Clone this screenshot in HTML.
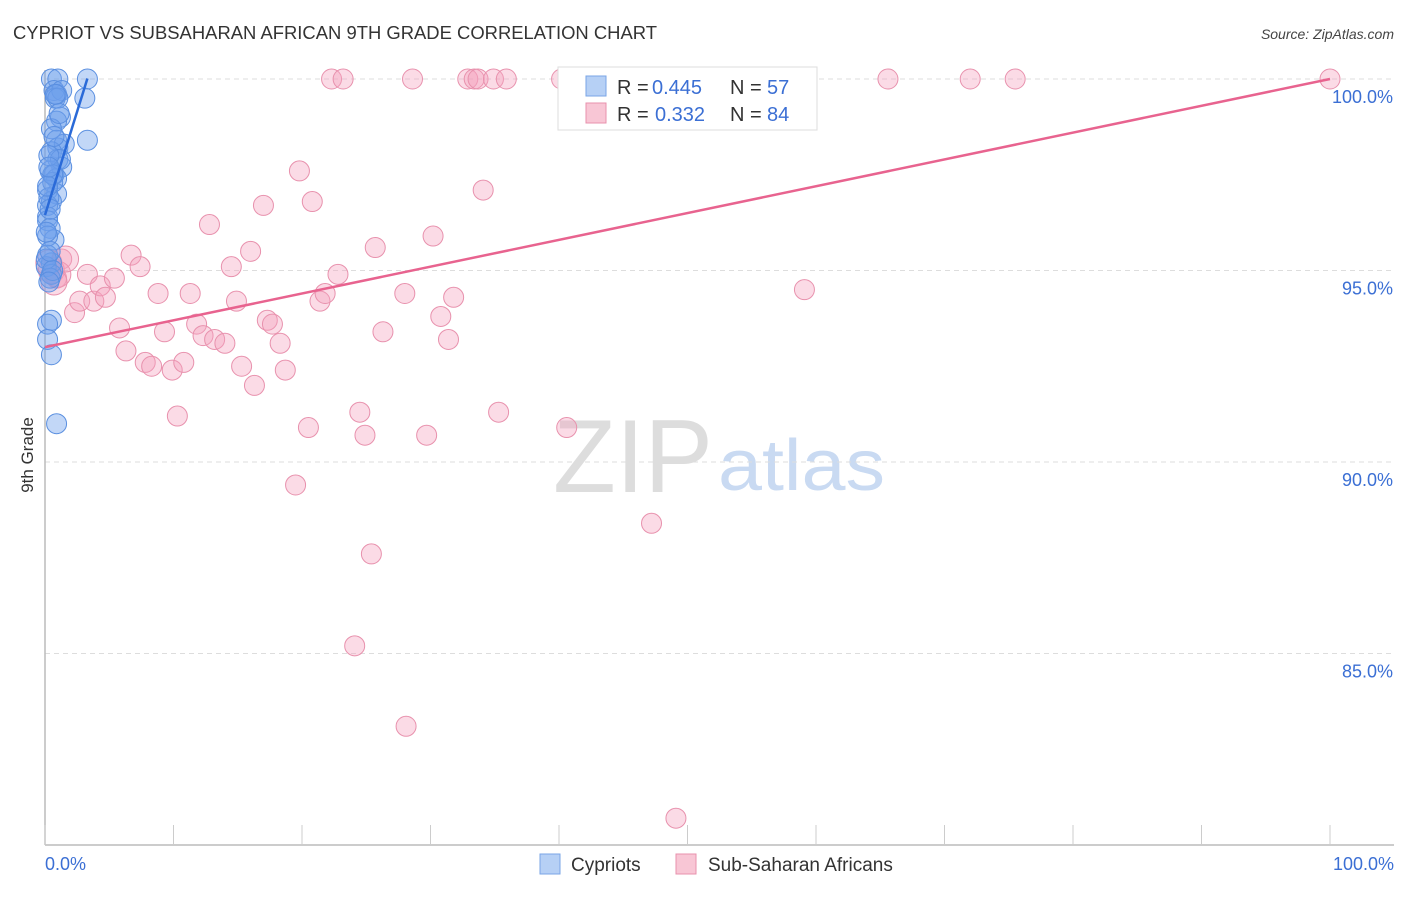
<!DOCTYPE html>
<html><head><meta charset="utf-8"><style>
body{margin:0;background:#fff;font-family:"Liberation Sans",sans-serif}
svg text{font-family:"Liberation Sans",sans-serif}
</style></head><body>
<svg id="chart" width="1406" height="892" viewBox="0 0 1406 892" xmlns="http://www.w3.org/2000/svg">
<text x="13" y="39" font-size="18" fill="#333" textLength="644" lengthAdjust="spacingAndGlyphs">CYPRIOT VS SUBSAHARAN AFRICAN 9TH GRADE CORRELATION CHART</text>
<text x="1394" y="39" font-size="14" fill="#444" text-anchor="end" font-style="italic">Source: ZipAtlas.com</text>
<text transform="translate(33,455) rotate(-90)" font-size="17" fill="#333" text-anchor="middle">9th Grade</text>
<g>
<text x="553" y="492" font-size="104" fill="#ddd" font-family="Liberation Serif,serif" textLength="160" lengthAdjust="spacingAndGlyphs">ZIP</text>
<text x="718" y="490" font-size="72" fill="#c9daf2" textLength="167" lengthAdjust="spacingAndGlyphs">atlas</text>
</g>
<g id="grid"></g><g id="axes"></g><g id="pts"></g><g id="lines"></g>
<g>
<rect x="558" y="67" width="259" height="63" fill="#fff" stroke="#ddd"/>
<rect x="586" y="76" width="20" height="20" fill="#b6d0f5" stroke="#7aa5e6"/>
<text x="617" y="94" font-size="20" fill="#333">R =</text>
<text x="652" y="94" font-size="20" fill="#3b6fd4">0.445</text>
<text x="730" y="94" font-size="20" fill="#333">N =</text>
<text x="767" y="94" font-size="20" fill="#3b6fd4">57</text>
<rect x="586" y="103" width="20" height="20" fill="#f8c6d5" stroke="#e891ad"/>
<text x="617" y="121" font-size="20" fill="#333">R =</text>
<text x="655" y="121" font-size="20" fill="#3b6fd4">0.332</text>
<text x="730" y="121" font-size="20" fill="#333">N =</text>
<text x="767" y="121" font-size="20" fill="#3b6fd4">84</text>
</g>
<g>
<rect x="540" y="854" width="20" height="20" fill="#b6d0f5" stroke="#7aa5e6"/>
<text x="571" y="871" font-size="19" fill="#333">Cypriots</text>
<rect x="676" y="854" width="20" height="20" fill="#f8c6d5" stroke="#e891ad"/>
<text x="708" y="871" font-size="19" fill="#333">Sub-Saharan Africans</text>
</g>
<text x="45" y="870" font-size="18" fill="#3b6fd4">0.0%</text>
<text x="1394" y="870" font-size="18" fill="#3b6fd4" text-anchor="end">100.0%</text>
</svg>
<script>
const yTicks=[100,95,90,85];
const yTickLabels=["100.0%","95.0%","90.0%","85.0%"];
const xTicks=[0,10,20,30,40,50,60,70,80,90,100];
const cypX=[0.5,1.0,3.3,0.7,0.9,1.3,0.8,1.0,3.1,1.2,0.9,0.5,0.9,3.3,1.0,1.5,0.5,1.0,1.3,0.4,0.7,0.9,0.2,0.9,0.5,0.2,0.2,0.2,0.4,0.7,0.2,0.5,0.1,0.5,0.4,0.5,0.2,0.2,0.5,0.9,0.6,1.2,0.2,0.3,0.6,0.1,0.8,0.3,0.4,0.6,0.2,0.3,0.7,0.1,0.4,1.1,0.3];
const cypY=[100,100,100,99.7,99.6,99.7,99.5,99.5,99.5,99.0,98.9,98.7,98.4,98.4,98.2,98.3,98.1,97.9,97.7,97.6,97.5,97.4,97.1,97.0,96.8,96.7,96.4,96.3,96.1,95.8,95.4,95.2,95.1,94.9,94.8,93.7,93.6,93.2,92.8,91.0,97.3,97.9,95.9,96.9,97.5,95.3,99.6,98.0,96.6,95.0,97.2,94.7,98.5,96.0,95.5,99.1,97.7];
const ssaX=[0.9,1.3,2.3,2.7,3.3,3.8,4.3,4.7,5.4,5.8,6.3,6.7,7.4,7.8,8.3,8.8,9.3,9.9,10.3,10.8,11.3,11.8,12.3,12.8,13.2,14.0,14.5,14.9,15.3,16.0,16.3,17.0,17.3,17.7,18.3,18.7,19.5,19.8,20.5,20.8,21.4,21.8,22.8,22.3,23.2,24.1,24.5,24.9,25.4,25.7,26.3,28.0,28.1,28.6,29.7,30.2,30.8,31.4,31.8,32.9,33.4,33.7,34.1,34.9,35.3,35.9,40.2,40.6,41.7,46.1,47.2,49.1,52.4,56.4,59.1,65.6,72.0,75.5,100,0.5,1.0,0.3,0.7,1.6];
const ssaY=[94.8,95.3,93.9,94.2,94.9,94.2,94.6,94.3,94.8,93.5,92.9,95.4,95.1,92.6,92.5,94.4,93.4,92.4,91.2,92.6,94.4,93.6,93.3,96.2,93.2,93.1,95.1,94.2,92.5,95.5,92.0,96.7,93.7,93.6,93.1,92.4,89.4,97.6,90.9,96.8,94.2,94.4,94.9,100,100,85.2,91.3,90.7,87.6,95.6,93.4,94.4,83.1,100,90.7,95.9,93.8,93.2,94.3,100,100,100,97.1,100,91.3,100,100,90.9,100,100,88.4,80.7,100,99.1,94.5,100,100,100,100,95.0,94.9,95.2,94.7,95.3];
const cypLine=[96.45,1.08]; // intercept, slope
const ssaLine=[93.0,0.07];
const NS="http://www.w3.org/2000/svg";
const X=v=>45+v*12.85, Y=v=>79+(100-v)*38.3;
function mk(t,a,p){const e=document.createElementNS(NS,t);for(const k in a)e.setAttribute(k,a[k]);p.appendChild(e);return e;}
const grid=document.getElementById('grid'),axes=document.getElementById('axes'),pts=document.getElementById('pts'),lines=document.getElementById('lines');
yTicks.forEach((t,i)=>{
 const l=mk('line',{x1:45,x2:1394,y1:Y(t),y2:Y(t),stroke:'#ddd','stroke-dasharray':'5,4'},grid);
 
 
 const tx=mk('text',{x:1393,y:Y(t)+24,'font-size':18,fill:'#3b6fd4','text-anchor':'end'},axes);
 tx.textContent=yTickLabels[i];
 
 
});
const xa=mk('line',{x1:45,x2:1394,y1:845,y2:845,stroke:'#bbb','stroke-width':1.5},axes);


const ya=mk('line',{x1:45,x2:45,y1:70,y2:845,stroke:'#bbb','stroke-width':1.5},axes);


xTicks.forEach(t=>{const l=mk('line',{x1:X(t),x2:X(t),y1:825,y2:845,stroke:'#ccc'},axes);
 
 });
ssaX.forEach((x,i)=>{const c=mk('circle',{cx:X(x),cy:Y(ssaY[i]),r:i>=79?13:10,fill:'rgba(244,160,188,0.38)',stroke:'#e891ad','stroke-width':1},pts);
 
 });
cypX.forEach((x,i)=>{const c=mk('circle',{cx:X(x),cy:Y(cypY[i]),r:10,fill:'rgba(110,160,235,0.42)',stroke:'#5a8fe0','stroke-width':1},pts);
 
 });
const sl=mk('line',{x1:X(0),y1:Y(ssaLine[0]),x2:X(100),y2:Y(ssaLine[0]+ssaLine[1]*100),stroke:'#e8638f','stroke-width':2.5},lines);


const cl=mk('line',{x1:X(0),y1:Y(cypLine[0]),x2:X(3.3),y2:Y(cypLine[0]+cypLine[1]*3.3),stroke:'#2a6ad8','stroke-width':2.5},lines);


</script>
</body></html>
